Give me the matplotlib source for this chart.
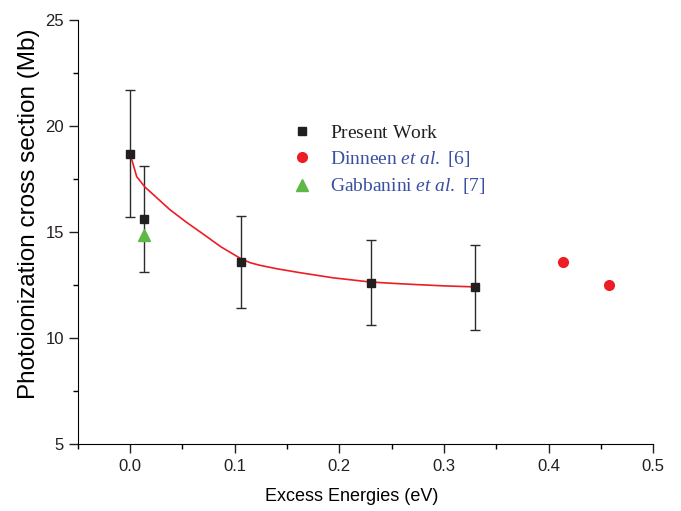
import numpy as np
import matplotlib
matplotlib.use('Agg')
import matplotlib.pyplot as plt
from matplotlib.ticker import MultipleLocator

plt.rcParams['font.family'] = ['Liberation Sans', 'DejaVu Sans']
plt.rcParams['mathtext.fontset'] = 'custom'
plt.rcParams['mathtext.rm'] = 'Liberation Serif'
plt.rcParams['mathtext.it'] = 'Liberation Serif:italic'

# present work
energy = [0.0, 0.013, 0.106, 0.23, 0.33]
sigma = [18.7, 15.6, 13.6, 12.6, 12.4]
sigma_err = [3.0, 2.5, 2.17, 2.0, 2.0]

# Dinneen et al. [6]
dinneen_x = [0.414, 0.458]
dinneen_y = [13.6, 12.5]

# Gabbanini et al. [7]
gabb_x = [0.013]
gabb_y = [14.86]

# fitted curve
fit_x = [0.0, 0.0064, 0.0143, 0.0382, 0.0542, 0.070, 0.0869, 0.1067, 0.1149,
         0.1242, 0.14, 0.1626, 0.194, 0.23, 0.258, 0.274, 0.30, 0.33]
fit_y = [18.7, 17.61, 17.12, 16.05, 15.45, 14.90, 14.30, 13.72, 13.55,
         13.43, 13.27, 13.08, 12.84, 12.64, 12.56, 12.52, 12.46, 12.41]

fig = plt.figure(figsize=(6.81, 5.11), dpi=100)
ax = fig.add_axes([0.1141, 0.1311, 0.8452, 0.8297])

ax.plot(fit_x, fit_y, color='#ee1c25', lw=1.2, zorder=2)
ax.errorbar(energy, sigma, yerr=sigma_err, fmt='none', ecolor='#2b2b2b',
            elinewidth=1.0, capsize=3.4, capthick=1.0, zorder=1)
h1, = ax.plot(energy, sigma, 's', color='#231f20', ms=6.3, zorder=3, ls='none')
h2, = ax.plot(dinneen_x, dinneen_y, 'o', color='#ee1c25', ms=7, zorder=3, ls='none')
h3, = ax.plot(gabb_x, gabb_y, '^', color='#5db848', ms=8, zorder=2.5, ls='none')

ax.set_xlim(-0.05, 0.5)
ax.set_ylim(5, 25)
ax.xaxis.set_major_locator(MultipleLocator(0.1))
ax.xaxis.set_minor_locator(MultipleLocator(0.05))
ax.yaxis.set_major_locator(MultipleLocator(5))
ax.yaxis.set_minor_locator(MultipleLocator(2.5))
ax.spines['top'].set_visible(False)
ax.spines['right'].set_visible(False)
ax.tick_params(which='major', direction='out', length=6.3, width=1, labelsize=12, colors='#231f20')
ax.tick_params(which='minor', direction='out', length=3.8, width=1)
ax.tick_params(axis='x', which='major', pad=4.5)
ax.set_xlabel('Excess Energies (eV)', fontsize=13)
ax.set_ylabel('Photoionization cross section (Mb)', fontsize=17.5)
ax.xaxis.set_label_coords(0.4766, -0.104)
ax.yaxis.set_label_coords(-0.066, 0.542)

leg = ax.legend([h1, h2, h3],
                [r'$\mathrm{Present\ Work}$',
                 r'$\mathrm{Dinneen}\ \mathit{et\ al.}\ \mathrm{[6]}$',
                 r'$\mathrm{Gabbanini}\ \mathit{et\ al.}\ \mathrm{[7]}$'],
                loc='upper left', bbox_to_anchor=(0.339, 0.796), frameon=False,
                fontsize=14, handletextpad=0.86, labelspacing=0.38, handlelength=1.2)
colors = ['#231f20', '#3a4fa0', '#3a4fa0']
for t, c in zip(leg.get_texts(), colors):
    t.set_color(c)

fig.savefig('out.png', dpi=100)
